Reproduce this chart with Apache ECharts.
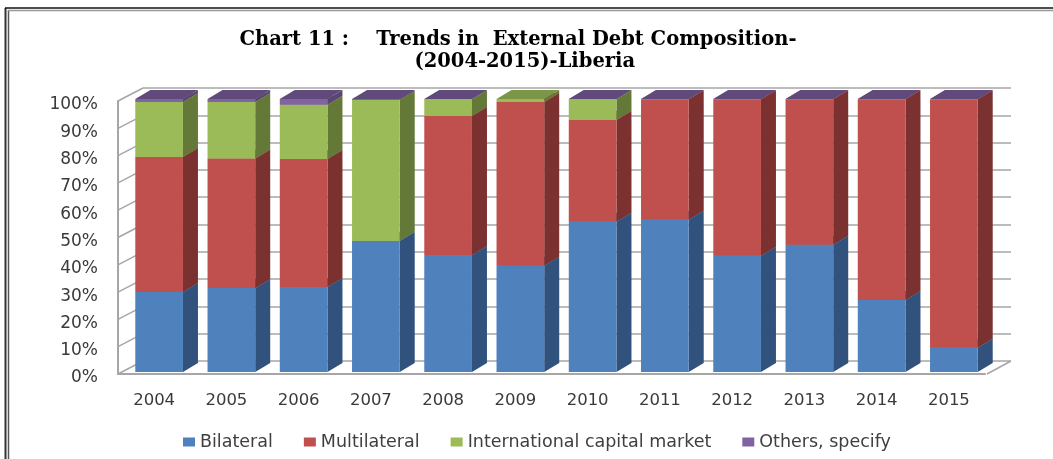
<!DOCTYPE html>
<html>
<head>
<meta charset="utf-8">
<script src="https://cdn.jsdelivr.net/npm/echarts@6/dist/echarts.min.js"></script>
<style>html,body{margin:0;padding:0;background:#fff}#c{width:1053px;height:459px}</style>
</head>
<body>
<div id="c"></div>
<script>
const years = ['2004','2005','2006','2007','2008','2009','2010','2011','2012','2013','2014','2015'];
const bilateral = [29.3,30.8,31.1,48,42.9,38.9,55,55.8,42.6,46.6,26.4,8.9];
const multilateral = [49.5,47.4,46.9,0,50.9,60,37.3,44.1,57.3,53.3,73.5,91];
const capitalMarket = [20.1,20.7,19.9,51.6,6.1,1.1,7.6,0,0,0,0,0];
const others = [1.1,1.1,2.1,0.4,0.1,0,0.1,0.1,0.1,0.1,0.1,0.1];
const yTicks = [0,10,20,30,40,50,60,70,80,90,100];

const SANS = '"DejaVu Sans", sans-serif', SERIF = '"DejaVu Serif", serif';
const palette = [
  {name:'Bilateral', values:bilateral, front:'#4F81BD', side:'#30527C', top:'#3E6797'},
  {name:'Multilateral', values:multilateral, front:'#C0504D', side:'#7A3130', top:'#9A403E'},
  {name:'International capital market', values:capitalMarket, front:'#9BBB59', side:'#647838', top:'#7C9647'},
  {name:'Others, specify', values:others, front:'#8064A2', side:'#5A4672', top:'#604A7B'}
];
const GREY = '#A6A6A6';
const FRONT = [5,-2], DEPTH = [15,-9], WALL = [25,-13];

function barItem(color){
  return function(params, api){
    const cat = api.value(0), s = api.value(1), e = api.value(2);
    if (e - s <= 0) return {type:'group', children:[]};
    const band = api.size([1,0])[0], w = band*0.66;
    const c0 = api.coord([cat,s]), c1 = api.coord([cat,e]);
    const x0 = c0[0]-w/2+FRONT[0], x1 = x0+w;
    const yb = c0[1]+FRONT[1], yt = c1[1]+FRONT[1];
    const dx = DEPTH[0], dy = DEPTH[1];
    return {type:'group', children:[
      {type:'polygon', shape:{points:[[x1,yb],[x1+dx,yb+dy],[x1+dx,yt+dy],[x1,yt]]}, style:{fill:color.side}},
      {type:'polygon', shape:{points:[[x0,yt],[x1,yt],[x1+dx,yt+dy],[x0+dx,yt+dy]]}, style:{fill:color.top}},
      {type:'rect', shape:{x:x0,y:yt,width:w,height:yb-yt}, style:{fill:color.front}}
    ]};
  };
}
let base = years.map(()=>0);
const barSeries = palette.map(p=>{
  const data = p.values.map((v,i)=>[i,base[i],base[i]+v]);
  base = base.map((b,i)=>b+p.values[i]);
  return {type:'custom', name:p.name, coordinateSystem:'cartesian2d', xAxisIndex:0, yAxisIndex:0, silent:true,
    itemStyle:{color:p.front}, encode:{x:0,y:[1,2]}, data, renderItem:barItem(p), z:5};
});
const lineStyle = {stroke:GREY, lineWidth:1.5};
const wallSeries = {type:'custom', coordinateSystem:'cartesian2d', xAxisIndex:0, yAxisIndex:0, silent:true, z:3,
  encode:{y:1}, data:yTicks.map(t=>[0,t]),
  renderItem(params, api){
    const y = api.coord([0,api.value(1)])[1], g = params.coordSys;
    const kids = [{type:'line', shape:{x1:g.x,y1:y,x2:g.x+WALL[0],y2:y+WALL[1]}, style:lineStyle}];
    if (api.value(1)===0) kids.push({type:'line', shape:{x1:g.x+g.width+2,y1:y,x2:g.x+g.width+WALL[0]+1,y2:y+WALL[1]}, style:lineStyle});
    return {type:'group', children:kids};
  }};

const option = {
  animation:false,
  backgroundColor:'#fff',
  title:{text:'Chart 11 :    Trends in  External Debt Composition-\n  (2004-2015)-Liberia', left:513, top:24, textAlign:'center',
    textStyle:{fontFamily:SERIF, fontWeight:'bold', fontSize:19.5, lineHeight:22, color:'#000'}},
  legend:{data:palette.map(p=>({name:p.name, icon:'rect'})), left:178, top:428, itemWidth:12, itemHeight:9, itemGap:31, selectedMode:false,
    textStyle:{fontFamily:SANS, fontSize:17.5, color:'#3f3f3f'}},
  grid:[
    {left:118, right:68, top:101, bottom:85},
    {left:143, right:42, top:88, bottom:98},
    {left:118, right:68, top:105, bottom:81}
  ],
  xAxis:[
    {type:'category', gridIndex:0, data:years, axisTick:{show:false}, axisLine:{lineStyle:{color:GREY,width:2}},
      axisLabel:{fontSize:16.5, color:'#3a3a3a', margin:18, fontFamily:SANS, interval:0}},
    {type:'category', gridIndex:1, data:years, show:false},
    {type:'category', gridIndex:2, data:years, show:false}
  ],
  yAxis:[
    {type:'value', gridIndex:0, min:0, max:100, interval:10, splitLine:{show:false}, axisTick:{show:false},
      axisLine:{show:true,lineStyle:{color:GREY,width:2}}, axisLabel:{show:false}},
    {type:'value', gridIndex:1, min:0, max:100, interval:10, axisLine:{show:false}, axisTick:{show:false}, axisLabel:{show:false},
      splitLine:{show:true,lineStyle:{color:GREY,width:1.5}}},
    {type:'value', gridIndex:2, min:0, max:100, interval:10, splitLine:{show:false}, axisTick:{show:false}, axisLine:{show:false},
      axisLabel:{formatter:'{value}%', fontSize:17, color:'#3a3a3a', margin:20, fontFamily:SANS}}
  ],
  graphic:[
    {type:'line', shape:{x1:5.5,y1:8,x2:5.5,y2:459}, style:{stroke:'#333',lineWidth:2}},
    {type:'line', shape:{x1:8.5,y1:10,x2:8.5,y2:459}, style:{stroke:'#555',lineWidth:1.5}},
    {type:'line', shape:{x1:5,y1:8,x2:1053,y2:8}, style:{stroke:'#111',lineWidth:1.5}},
    {type:'line', shape:{x1:8,y1:10.5,x2:1053,y2:10.5}, style:{stroke:'#999',lineWidth:1.5}}
  ],
  series:[wallSeries].concat(barSeries)
};
echarts.init(document.getElementById('c')).setOption(option);
</script>
</body>
</html>
